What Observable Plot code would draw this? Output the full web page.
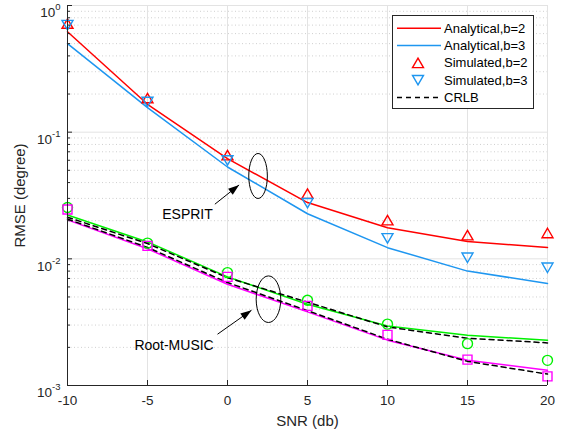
<!DOCTYPE html>
<html><head><meta charset="utf-8">
<script src="https://cdn.jsdelivr.net/npm/d3@7"></script>
<script src="https://cdn.jsdelivr.net/npm/@observablehq/plot@0.6"></script>
<style>
body{margin:0;background:#fff;}
#wrap{position:relative;width:562px;height:436px;font-family:"Liberation Sans",Arial,sans-serif;}
#legend{position:absolute;left:0;top:0;pointer-events:none;}
</style></head><body><div id="wrap"></div>
<script>
// ---- data ----
const snr = [-10, -5, 0, 5, 10, 15, 20];
const espritAnaB2 = [0.62, 0.166, 0.0618, 0.0278, 0.0176, 0.0137, 0.0123];
const espritAnaB3 = [0.50, 0.156, 0.0531, 0.0227, 0.01225, 0.0080, 0.0064];
const espritSimB2 = [0.72, 0.186, 0.0659, 0.0327, 0.0202, 0.0154, 0.0160];
const espritSimB3 = [0.70, 0.173, 0.0598, 0.0275, 0.0145, 0.0102, 0.0085];
const musicAnaB2 = [0.0222, 0.0136, 0.0072, 0.00438, 0.00295, 0.00249, 0.00228];
const musicAnaB3 = [0.0203, 0.0120, 0.0063, 0.00381, 0.00228, 0.00158, 0.00132];
const musicSimB2 = [0.0254, 0.0133, 0.00778, 0.00471, 0.00305, 0.00214, 0.00158];
const musicSimB3 = [0.0245, 0.01265, 0.0072, 0.00425, 0.00251, 0.0016, 0.00118];
const crlbB2 = [0.0213, 0.0132, 0.0071, 0.00455, 0.0029, 0.00236, 0.00217];
const crlbB3 = [0.0206, 0.0123, 0.0065, 0.0039, 0.00232, 0.00155, 0.00123];

const xTicks = [-10, -5, 0, 5, 10, 15, 20];
const yMajor = [0.001, 0.01, 0.1, 1];
const yMinor = [];
for (const d of [0.001, 0.01, 0.1]) for (let k = 2; k <= 9; k++) yMinor.push(d * k);

const legendLabels = ["Analytical,b=2", "Analytical,b=3", "Simulated,b=2", "Simulated,b=3", "CRLB"];
const annotText = ["ESPRIT", "Root-MUSIC"];
const annotTextX = [-2.5, -3.34];
const annotTextY = [0.0222, 0.00205];
const ellipseX = [1.91, 2.56];
const ellipseY = [0.0451, 0.0048];
const arrowX1 = [-0.79, -0.625];
const arrowY1 = [0.0270, 0.00254];
const arrowX2 = [0.725, 1.5];
const arrowY2 = [0.0383, 0.00393];

// ---- helpers ----
const series = arr => snr.map((s, i) => ({snr: s, v: arr[i]}));
const W = 562, H = 436, mL = 67, mR = 15, mT = 5, mB = 51;
const plotW = W - mL - mR, plotH = H - mT - mB;
const RED = "#ff0000", BLUE = "#1e96f0", GREEN = "#00f000", MAG = "#ff00ff", INK = "#262626";

function triangle(up, w, h) {
  return {draw(c) {
    if (up) { c.moveTo(0, -h / 2); c.lineTo(w / 2, h / 2); c.lineTo(-w / 2, h / 2); }
    else { c.moveTo(0, h / 2); c.lineTo(w / 2, -h / 2); c.lineTo(-w / 2, -h / 2); }
    c.closePath();
  }};
}
function square(s) { return {draw(c) { c.rect(-s / 2, -s / 2, s, s); }}; }
function ellipse(rx, ry) {
  const k = 0.5523;
  return {draw(c) {
    c.moveTo(rx, 0);
    c.bezierCurveTo(rx, ry * k, rx * k, ry, 0, ry);
    c.bezierCurveTo(-rx * k, ry, -rx, ry * k, -rx, 0);
    c.bezierCurveTo(-rx, -ry * k, -rx * k, -ry, 0, -ry);
    c.bezierCurveTo(rx * k, -ry, rx, -ry * k, rx, 0);
    c.closePath();
  }};
}
const head = {draw(c) { c.moveTo(0, 0); c.lineTo(-3.8, 11); c.lineTo(3.8, 11); c.closePath(); }};

const annot = annotText.map((t, i) => ({
  t, tx: annotTextX[i], ty: annotTextY[i], ex: ellipseX[i], ey: ellipseY[i],
  x1: arrowX1[i], y1: arrowY1[i], x2: arrowX2[i], y2: arrowY2[i]
}));

const lineOpts = (stroke, extra = {}) => ({x: "snr", y: "v", stroke, strokeWidth: 1.5, ...extra});
const dotOpts = (stroke, symbol, extra = {}) => ({x: "snr", y: "v", stroke, symbol, fill: "none", strokeWidth: 1.4, r: 5, ...extra});

const plot = Plot.plot({
  width: W, height: H,
  marginLeft: mL, marginRight: mR, marginTop: mT, marginBottom: mB,
  style: {fontFamily: '"Liberation Sans", Arial, sans-serif', fontSize: "13.5px", color: INK, background: "#fff"},
  x: {domain: [-10, 20]},
  y: {type: "log", domain: [0.001, 1]},
  marks: [
    // grid
    Plot.ruleY(yMinor, {stroke: "#cfcfcf", strokeDasharray: "1,2.5"}),
    Plot.ruleY(yMajor, {stroke: "#e3e3e3"}),
    Plot.ruleX(xTicks, {stroke: "#e3e3e3"}),
    // analytical lines
    Plot.line(series(espritAnaB2), lineOpts(RED)),
    Plot.line(series(espritAnaB3), lineOpts(BLUE)),
    Plot.line(series(musicAnaB2), lineOpts(GREEN)),
    Plot.line(series(musicAnaB3), lineOpts(MAG)),
    // CRLB
    Plot.line(series(crlbB2), lineOpts("#000", {strokeDasharray: "5,4"})),
    Plot.line(series(crlbB3), lineOpts("#000", {strokeDasharray: "5,4"})),
    // simulated markers
    Plot.dot(series(espritSimB2), dotOpts(RED, triangle(true, 11, 9.5))),
    Plot.dot(series(espritSimB3), dotOpts(BLUE, triangle(false, 11, 9.5))),
    Plot.dot(series(musicSimB2), dotOpts(GREEN, "circle")),
    Plot.dot(series(musicSimB3), dotOpts(MAG, square(9))),
    // annotations
    Plot.dot(annot.slice(0, 1), {x: "ex", y: "ey", symbol: ellipse(9.3, 22.5), stroke: "#000", fill: "none", strokeWidth: 1}),
    Plot.dot(annot.slice(1, 2), {x: "ex", y: "ey", symbol: ellipse(12.3, 23.3), stroke: "#000", fill: "none", strokeWidth: 1}),
    Plot.link(annot, {x1: "x1", y1: "y1", x2: "x2", y2: "y2", stroke: "#000", strokeWidth: 1}),
    Plot.dot(annot.slice(0, 1), {x: "x2", y: "y2", symbol: head, fill: "#000", stroke: "none", rotate: 52}),
    Plot.dot(annot.slice(1, 2), {x: "x2", y: "y2", symbol: head, fill: "#000", stroke: "none", rotate: 55}),
    Plot.text(annot, {x: "tx", y: "ty", text: "t", fontSize: 14, fill: "#000", textAnchor: "middle", lineAnchor: "middle"}),
    // axes lines and inward ticks
    Plot.ruleX([-10], {stroke: INK}),
    Plot.ruleY([0.001], {stroke: INK}),
    Plot.ruleX(xTicks, {stroke: INK, insetTop: plotH - 5}),
    Plot.ruleY(yMajor, {stroke: INK, insetRight: plotW - 5}),
    Plot.ruleY(yMinor, {stroke: INK, insetRight: plotW - 3}),
    Plot.axisX({ticks: xTicks, tickSize: 0, tickPadding: 10, tickFormat: d => String(d), label: null, fontSize: 13.5}),
    Plot.axisY({ticks: yMajor, tickSize: 0, tickPadding: 7, tickFormat: d => String(Math.round(Math.log10(d))), label: null, fontSize: 13.5}),
    Plot.text(["SNR (db)"], {frameAnchor: "bottom", dy: 36, text: d => d, fontSize: 15, fill: INK, textAnchor: "middle", lineAnchor: "middle"}),
    Plot.text(["RMSE (degree)"], {frameAnchor: "left", dx: -47, rotate: -90, text: d => d, fontSize: 15, fill: INK, textAnchor: "middle", lineAnchor: "middle"})
  ]
});

// superscript exponents on the y tick labels
const NS = "http://www.w3.org/2000/svg";
plot.querySelectorAll('g[aria-label="y-axis tick label"] text').forEach(t => {
  const e = t.textContent;
  t.textContent = "";
  t.setAttribute("dy", "0.55em");
  const a = document.createElementNS(NS, "tspan"); a.textContent = "10";
  const b = document.createElementNS(NS, "tspan"); b.textContent = e;
  b.setAttribute("dy", "-7"); b.setAttribute("font-size", "9.5");
  t.append(a, b);
});

const wrap = document.getElementById("wrap");
wrap.appendChild(plot);

// legend overlay
const lg = d3.create("svg").attr("id", "legend").attr("width", W).attr("height", H)
  .style("font-family", '"Liberation Sans", Arial, sans-serif');
lg.append("rect").attr("x", 392.5).attr("y", 15.5).attr("width", 141).attr("height", 93)
  .attr("fill", "#fff").attr("stroke", INK).attr("stroke-width", 1);
const rowsY = [28.3, 45.6, 62.9, 80.2, 97.5];
const path = s => { const p = d3.path(); s.draw(p, 0); return p.toString(); };
legendLabels.forEach((lab, i) => {
  const y = rowsY[i];
  if (i === 0 || i === 1 || i === 4) {
    lg.append("line").attr("x1", 397).attr("x2", 441).attr("y1", y).attr("y2", y)
      .attr("stroke", i === 0 ? RED : i === 1 ? BLUE : "#000").attr("stroke-width", 1.5)
      .attr("stroke-dasharray", i === 4 ? "5,4" : null);
  } else {
    lg.append("path").attr("d", path(triangle(i === 2, 11, 9.5)))
      .attr("transform", `translate(418,${y})`).attr("fill", "none")
      .attr("stroke", i === 2 ? RED : BLUE).attr("stroke-width", 1.4);
  }
  lg.append("text").attr("x", 444).attr("y", y).attr("dy", "0.35em")
    .attr("font-size", 13).attr("fill", "#000").text(lab);
});
wrap.appendChild(lg.node());
</script></body></html>
